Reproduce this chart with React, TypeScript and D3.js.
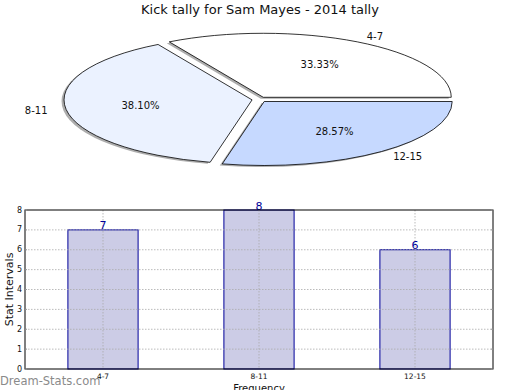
import React from "react";
import * as d3 from "d3";

const categories = ["4-7", "8-11", "12-15"];
const counts = [7, 8, 6];
const pieColors = ["#ffffff", "#ebf2ff", "#c6d9ff"];
const yTicks = [0, 1, 2, 3, 4, 5, 6, 7, 8];

const W = 520;
const H = 390;
const font = "DejaVu Sans, sans-serif";

// pie geometry (squashed ellipse, like the original)
const pcx = 259.5;
const pcy = 99.5;
const rx = 188;
const ry = 64;
const explode = 0.04;

// bar chart frame
const margin = { left: 25, right: 493, top: 210, bottom: 369 };

const App = () => {
  const total = d3.sum(counts);
  const pieGen = d3
    .pie<number>()
    .sort(null)
    .startAngle(Math.PI / 2)
    .endAngle(Math.PI / 2 - 2 * Math.PI);
  const arcs = pieGen(counts);
  const unitArc = d3.arc<d3.PieArcDatum<number>>().innerRadius(0).outerRadius(1);

  const x = d3
    .scaleBand()
    .domain(categories)
    .range([margin.left, margin.right])
    .paddingInner(0.55)
    .paddingOuter(0.275);
  const y = d3.scaleLinear().domain([0, 8]).range([margin.bottom, margin.top]);

  return (
    <svg
      width={W}
      height={H}
      style={{ position: "absolute", left: 0, top: 0, background: "#fff" }}
      fontFamily={font}
    >
      <text x={260} y={14} textAnchor="middle" fontSize={13} fill="#111">
        Kick tally for Sam Mayes - 2014 tally
      </text>

      {/* shadows */}
      {arcs.map((a, i) => {
        const mid = (a.startAngle + a.endAngle) / 2;
        const ox = pcx + explode * rx * Math.sin(mid) - 2.5;
        const oy = pcy - explode * ry * Math.cos(mid) + 1.5;
        return (
          <path
            key={"s" + i}
            d={unitArc(a) || ""}
            transform={`translate(${ox},${oy}) scale(${rx},${ry})`}
            fill="#777"
            opacity={0.6}
          />
        );
      })}
      {arcs.map((a, i) => {
        const mid = (a.startAngle + a.endAngle) / 2;
        const ox = pcx + explode * rx * Math.sin(mid);
        const oy = pcy - explode * ry * Math.cos(mid);
        const lx = ox + 1.1 * rx * Math.sin(mid);
        const ly = oy - 1.1 * ry * Math.cos(mid);
        const px = ox + 0.6 * rx * Math.sin(mid);
        const py = oy - 0.6 * ry * Math.cos(mid);
        return (
          <g key={"p" + i}>
            <path
              d={unitArc(a) || ""}
              transform={`translate(${ox},${oy}) scale(${rx},${ry})`}
              fill={pieColors[i]}
              stroke="#000"
              strokeWidth={0.8}
              vectorEffect="non-scaling-stroke"
              strokeLinejoin="miter"
            />
            <text
              x={lx}
              y={ly}
              textAnchor={Math.sin(mid) > 0 ? "start" : "end"}
              dominantBaseline="central"
              fontSize={10}
              fill="#111"
            >
              {categories[i]}
            </text>
            <text
              x={px}
              y={py}
              textAnchor="middle"
              dominantBaseline="central"
              fontSize={10}
              fill="#111"
            >
              {((counts[i] / total) * 100).toFixed(2) + "%"}
            </text>
          </g>
        );
      })}

      {/* bar chart */}
      {categories.map((c, i) => (
        <rect
          key={"b" + c}
          x={x(c)}
          y={y(counts[i])}
          width={x.bandwidth()}
          height={margin.bottom - y(counts[i])}
          fill="#ccccE6"
          stroke="#000099"
          strokeWidth={1}
        />
      ))}
      {yTicks.slice(1, -1).map((t) => (
        <line
          key={"gy" + t}
          x1={margin.left}
          x2={margin.right}
          y1={y(t)}
          y2={y(t)}
          stroke="#aaaaaa"
          strokeOpacity={0.8}
          strokeDasharray="1.5,1.5"
          strokeWidth={1}
        />
      ))}
      {categories.map((c) => {
        const cx = (x(c) as number) + x.bandwidth() / 2;
        return (
          <line
            key={"gx" + c}
            x1={cx}
            x2={cx}
            y1={margin.top}
            y2={margin.bottom}
            stroke="#aaaaaa"
            strokeOpacity={0.8}
            strokeDasharray="1.5,1.5"
            strokeWidth={1}
          />
        );
      })}
      {categories.map((c, i) => (
        <text
          key={"v" + c}
          x={(x(c) as number) + x.bandwidth() / 2}
          y={y(counts[i]) - 0.5}
          textAnchor="middle"
          fontSize={11}
          fill="#000099"
        >
          {counts[i]}
        </text>
      ))}
      <rect
        x={margin.left}
        y={margin.top}
        width={margin.right - margin.left}
        height={margin.bottom - margin.top}
        fill="none"
        stroke="#000"
        strokeWidth={1}
      />
      {yTicks.map((t) => (
        <g key={"yt" + t}>
          <line x1={margin.left} x2={margin.left + 2} y1={y(t)} y2={y(t)} stroke="#999" />
          <line x1={margin.right - 2} x2={margin.right} y1={y(t)} y2={y(t)} stroke="#999" />
          <text
            x={margin.left - 3}
            y={y(t)}
            textAnchor="end"
            dominantBaseline="central"
            fontSize={8}
            fill="#111"
          >
            {t}
          </text>
        </g>
      ))}
      {categories.map((c) => (
        <text
          key={"xt" + c}
          x={(x(c) as number) + x.bandwidth() / 2}
          y={379}
          textAnchor="middle"
          fontSize={7.5}
          fill="#111"
        >
          {c}
        </text>
      ))}
      <text x={259} y={392} textAnchor="middle" fontSize={10} fill="#111">
        Frequency
      </text>
      <text
        transform={`translate(13,${(margin.top + margin.bottom) / 2}) rotate(-90)`}
        textAnchor="middle"
        fontSize={11}
        fill="#111"
      >
        Stat Intervals
      </text>
      <text x={0} y={385} fontSize={11.5} fill="#8a8a8a">
        Dream-Stats.com
      </text>
    </svg>
  );
};

export default App;
